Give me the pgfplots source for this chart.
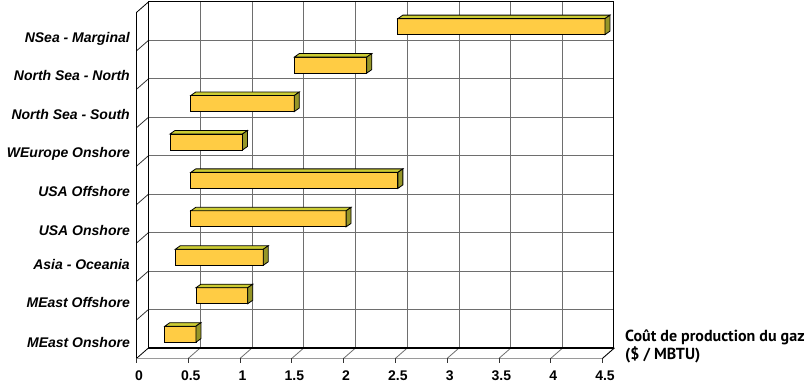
\documentclass[border=0pt]{standalone}
\usepackage{fontspec}
\setmainfont{Liberation Sans}
\newfontfamily\titlefont{PT Sans}
\usepackage{pgfplots}
\usepackage{pgfplotstable}
\pgfplotsset{compat=1.18}

\definecolor{barfront}{RGB}{255,204,68}
\definecolor{bartop}{RGB}{204,204,51}
\definecolor{barside}{RGB}{150,150,40}
\definecolor{gridgray}{RGB}{110,110,110}

% cost ranges, bottom category first
\pgfplotstableread{
lo hi
0.25 0.55
0.55 1.05
0.35 1.20
0.50 2.00
0.50 2.50
0.30 1.00
0.50 1.50
1.50 2.20
2.50 4.50
}\costdata

\begin{document}
\begin{tikzpicture}
\useasboundingbox (0,0) rectangle (807pt,389pt);
\begin{axis}[
  at={(139pt,35.6pt)}, anchor=south west,
  scale only axis, width=466pt, height=346pt,
  xmin=0, xmax=4.5, ymin=0, ymax=9,
  clip=false,
  axis line style={draw=none},
  major tick length=0pt,
  xtick={0,0.5,1,1.5,2,2.5,3,3.5,4,4.5},
  /pgf/number format/assume math mode=true,
  xticklabel style={font=\bfseries\fontsize{14}{14}\selectfont, anchor=base, inner sep=0pt, yshift=-26.6pt},
  ytick={0.166,1.181,2.170,3.054,4.069,5.083,6.072,7.087,8.076},
  yticklabels={MEast Onshore, MEast Offshore, Asia - Oceania, USA Onshore, USA Offshore, WEurope Onshore, North Sea - South, North Sea - North, NSea - Marginal},
  yticklabel style={font=\bfseries\itshape\fontsize{14}{14}\selectfont, anchor=base east, inner sep=0pt, xshift=-9pt},
]
% back wall grid
\pgfplotsinvokeforeach{0.5,1,1.5,2,2.5,3,3.5,4}{
  \draw[gridgray, line width=0.9pt] (axis cs:#1,0) ++(9.5pt,5.5pt) -- ++(0,346pt);
}
\pgfplotsinvokeforeach{1,2,3,4,5,6,7,8}{
  \draw[gridgray, line width=0.9pt] (axis cs:0,#1) ++(9.5pt,5.5pt) -- ++(465pt,0);
}
% left wall slants
\pgfplotsinvokeforeach{1,2,3,4,5,6,7,8}{
  \draw[black!80, line width=0.8pt] (axis cs:0,#1) ++(9.5pt,5.5pt) -- ++(-12pt,-10.5pt);
}
\draw[black, line width=0.8pt] (axis cs:0,9) ++(9.5pt,5.5pt) -- ++(-12pt,-10.5pt) -- ++(0,-346pt) -- ++(12pt,10.5pt);
% floor
\draw[gridgray!70, line width=0.8pt] (axis cs:0,0) ++(-2.5pt,-5pt) -- ++(465pt,0);
\pgfplotsinvokeforeach{0.5,1,1.5,2,2.5,3,3.5,4}{
  \draw[gridgray, line width=0.8pt] (axis cs:#1,0) ++(9.5pt,5.5pt) -- ++(-12pt,-10.5pt);
}
\pgfplotsinvokeforeach{0,0.5,1,1.5,2,2.5,3,3.5,4,4.5}{
  \draw[black!80, line width=0.8pt] (axis cs:#1,0) ++(-2.5pt,-5pt) -- ++(0,-5pt);
}
\draw[black, line width=0.9pt] (axis cs:4.5,0) ++(9.5pt,5.5pt) -- ++(-12pt,-10.5pt);
% back wall border
\draw[black, line width=1.2pt] (axis cs:0,0) ++(9.5pt,5.5pt) -- ++(465pt,0) -- ++(0,346pt) -- ++(-465pt,0) -- cycle;
% bars
\pgfplotsinvokeforeach{0,...,8}{
  \pgfplotstablegetelem{#1}{lo}\of\costdata \let\lo\pgfplotsretval
  \pgfplotstablegetelem{#1}{hi}\of\costdata \let\hi\pgfplotsretval
  \pgfmathsetmacro\yc{#1+0.5}
  \pgfmathsetmacro\ya{\yc-0.2083}
  \pgfmathsetmacro\yb{\yc+0.2083}
  \pgfmathsetmacro\yt{\yb+0.091}
  \pgfmathsetmacro\ys{\ya+0.091}
  \pgfmathsetmacro\lod{\lo+0.048}
  \pgfmathsetmacro\hid{\hi+0.048}
  \edef\barcmd{%
    \noexpand\addplot[fill=barfront, draw=black, line width=0.8pt] coordinates {(\lo,\ya) (\hi,\ya) (\hi,\yb) (\lo,\yb)} -- cycle;
    \noexpand\addplot[fill=bartop, draw=black, line width=0.8pt] coordinates {(\lo,\yb) (\hi,\yb) (\hid,\yt) (\lod,\yt)} -- cycle;
    \noexpand\addplot[fill=barside, draw=black, line width=0.8pt] coordinates {(\hi,\ya) (\hid,\ys) (\hid,\yt) (\hi,\yb)} -- cycle;
  }%
  \barcmd
}
\end{axis}
\node[anchor=base west, inner sep=0pt] at (625pt,48pt) {\titlefont\bfseries\fontsize{16}{16}\selectfont Coût de production du gaz};
\node[anchor=base west, inner sep=0pt] at (625pt,29.3pt) {\titlefont\bfseries\fontsize{16}{16}\selectfont (\$ / MBTU)};
\end{tikzpicture}
\end{document}
